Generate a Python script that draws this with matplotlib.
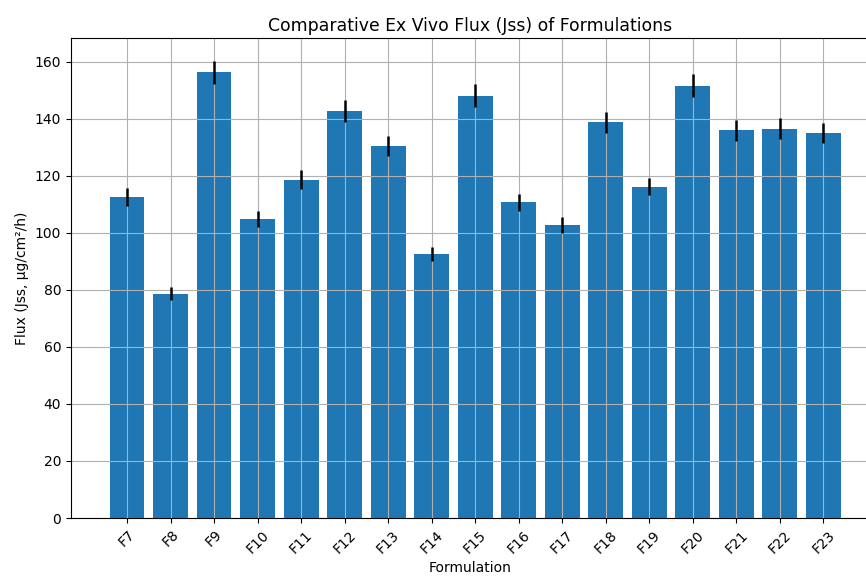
import numpy as np
import matplotlib
matplotlib.use("Agg")
import matplotlib.pyplot as plt

# steady-state flux per formulation, with SD
formulations = ["F7", "F8", "F9", "F10", "F11", "F12", "F13", "F14", "F15",
                "F16", "F17", "F18", "F19", "F20", "F21", "F22", "F23"]
flux = [112.6, 78.7, 156.3, 104.9, 118.7, 142.8, 130.4, 92.5, 148.2,
        110.8, 102.8, 138.8, 116.3, 151.6, 136.0, 136.6, 135.2]
flux_sd = [3.2, 2.3, 3.9, 2.9, 3.3, 3.9, 3.5, 2.5, 3.9,
           3.0, 2.8, 3.7, 3.0, 4.0, 3.6, 3.6, 3.5]

fig = plt.figure(figsize=(8.66, 5.76), dpi=100)
ax = fig.add_axes([71 / 866, 58 / 576, (870 - 71) / 866, 480 / 576])

x = np.arange(len(formulations))
ax.bar(x, flux, yerr=flux_sd, color="#1f77b4", ecolor="black",
       error_kw={"elinewidth": 1.8})
ax.set_xticks(x)
ax.set_xticklabels(formulations, rotation=45)
ax.set_xlim(-1.287, 17.07)
ax.set_ylim(0, 168.4)
ax.grid(True)

ax.set_title("Comparative Ex Vivo Flux (Jss) of Formulations", fontsize=12.4, pad=5)
ax.set_xlabel("Formulation")
ax.set_ylabel("Flux (Jss, μg/cm²/h)")

fig.savefig("out.png", dpi=100)
